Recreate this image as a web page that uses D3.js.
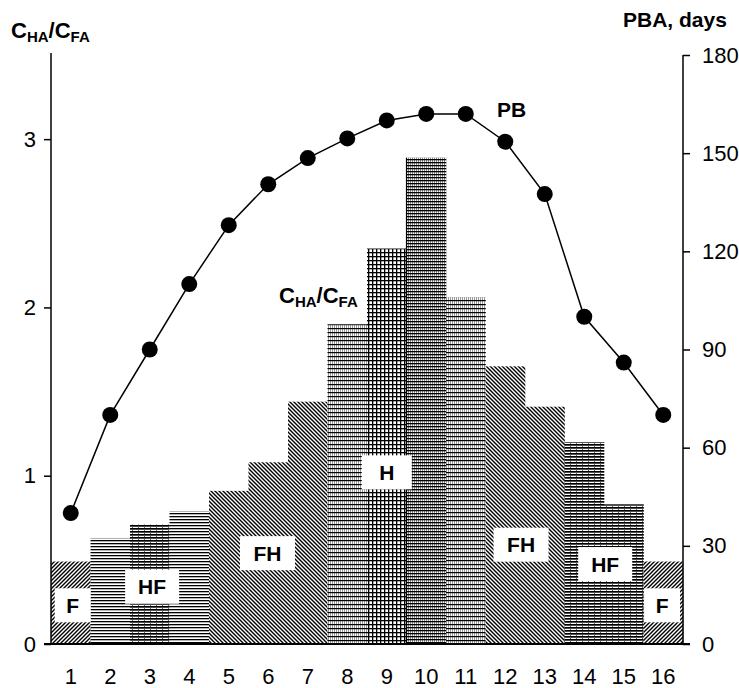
<!DOCTYPE html>
<html>
<head>
<meta charset="utf-8">
<script src="https://cdn.jsdelivr.net/npm/d3@7/dist/d3.min.js"></script>
<style>
  body { margin: 0; background: #fff; }
  svg { display: block; font-family: "Liberation Sans", Arial, sans-serif; }
  .num { font-family: "Liberation Sans Narrow", "Arial Narrow", "Liberation Sans", sans-serif; }
</style>
</head>
<body>
<svg id="chart" width="739" height="688"></svg>
<script>
// soil types 1..16
var sites = d3.range(1, 17);
// C_HA / C_FA ratio (left axis)
var ratio = [0.49, 0.63, 0.71, 0.79, 0.91, 1.08, 1.44, 1.90, 2.35, 2.89, 2.06, 1.65, 1.41, 1.20, 0.83, 0.49];
// PBA, days (right axis)
var pba = [40, 70, 90, 110, 128, 140.5, 148.5, 154.5, 160, 162, 162, 153.5, 137.5, 100, 86, 70];
// fill pattern for each bar
var barPattern = ["diagR", "horiz", "horizDark", "horiz", "diagL", "diagL", "diagL", "vgrid",
                  "grid", "hgrid", "vgrid", "diagL", "diagL", "horizDark", "horizDark", "diagR"];
var leftTicks = [0, 1, 2, 3];
var rightTicks = [0, 30, 60, 90, 120, 150, 180];
// humus type labels: text, position (in site units), level (left-axis units)
var typeLabels = ["F", "HF", "FH", "H", "FH", "HF", "F"];
var typePos = [1.05, 3.06, 5.98, 9.0, 12.4, 14.53, 15.97];
var typeLevel = [0.23, 0.34, 0.54, 1.02, 0.59, 0.475, 0.23];

var svg = d3.select("#chart");
var L = 51, R = 683, B = 644, T = 55;

var x = d3.scaleBand().domain(sites).range([L, R]).padding(0);
var xc = d3.scaleLinear().domain([0.5, 16.5]).range([L, R]);
var yL = d3.scaleLinear().domain([0, 3.5]).range([B, T]);
var yR = d3.scaleLinear().domain([0, 180]).range([B, T]);

// patterns
var defs = svg.append("defs");
function pat(id, w, h) {
  var p = defs.append("pattern").attr("id", id).attr("patternUnits", "userSpaceOnUse")
    .attr("width", w).attr("height", h);
  p.append("rect").attr("width", w).attr("height", h).attr("fill", "#fff");
  return p;
}
var p;
p = pat("diagR", 4, 4);
p.append("path").attr("d", "M-1,1 L1,-1 M0,4 L4,0 M3,5 L5,3").attr("stroke", "#000").attr("stroke-width", 1.4);
p = pat("diagL", 4, 4);
p.append("path").attr("d", "M-1,3 L1,5 M0,0 L4,4 M3,-1 L5,1").attr("stroke", "#000").attr("stroke-width", 1.4);
p = pat("horiz", 4, 3);
p.append("rect").attr("y", 0).attr("width", 4).attr("height", 1.3).attr("fill", "#000");
p = pat("horizDark", 6, 3);
p.append("rect").attr("y", 0).attr("width", 6).attr("height", 1.7).attr("fill", "#000");
p.append("rect").attr("x", 0).attr("y", 1.7).attr("width", 1).attr("height", 1.3).attr("fill", "#666");
p = pat("vgrid", 2, 4);
p.append("rect").attr("x", 0).attr("width", 1).attr("height", 4).attr("fill", "#999");
p.append("rect").attr("y", 0).attr("width", 2).attr("height", 1.2).attr("fill", "#000");
p = pat("grid", 4, 4);
p.append("rect").attr("x", 0).attr("width", 1.3).attr("height", 4).attr("fill", "#000");
p.append("rect").attr("y", 0).attr("width", 4).attr("height", 1.3).attr("fill", "#000");
p = pat("hgrid", 2, 3);
p.append("rect").attr("x", 0).attr("width", 1).attr("height", 3).attr("fill", "#888");
p.append("rect").attr("y", 0).attr("width", 2).attr("height", 1.3).attr("fill", "#000");

// bars
svg.append("g").selectAll("rect").data(sites).enter().append("rect")
  .attr("x", d => x(d))
  .attr("y", (d, i) => yL(ratio[i]))
  .attr("width", x.bandwidth() + 0.3)
  .attr("height", (d, i) => B - yL(ratio[i]))
  .attr("fill", (d, i) => "url(#" + barPattern[i] + ")");

// bar 9/10 divider
svg.append("line").attr("x1", x(10)).attr("x2", x(10)).attr("y1", yL(ratio[9])).attr("y2", B)
  .attr("stroke", "#000").attr("stroke-width", 1.2);

// label boxes
var boxW = { "F": 36, "HF": 54, "FH": 55, "H": 50 };
var lab = svg.append("g").selectAll("g").data(typeLabels).enter().append("g")
  .attr("transform", (d, i) => "translate(" + xc(typePos[i]) + "," + yL(typeLevel[i]) + ")");
lab.append("rect")
  .attr("x", d => -boxW[d] / 2).attr("y", -17)
  .attr("width", d => boxW[d]).attr("height", 34)
  .attr("fill", "#fff");
lab.append("text").text(d => d)
  .attr("text-anchor", "middle").attr("dy", "0.36em")
  .attr("font-size", 21).attr("font-weight", "bold");

// PBA line
var line = d3.line().x((d, i) => xc(sites[i])).y(d => yR(d));
svg.append("path").datum(pba).attr("d", line)
  .attr("fill", "none").attr("stroke", "#000").attr("stroke-width", 1.5);
svg.append("g").selectAll("circle").data(pba).enter().append("circle")
  .attr("cx", (d, i) => xc(sites[i])).attr("cy", d => yR(d)).attr("r", 8).attr("fill", "#000");

// axes
var axL = d3.axisLeft(yL).tickValues(leftTicks).tickSize(7).tickPadding(8).tickFormat(d3.format("d"));
var gL = svg.append("g").attr("transform", "translate(" + L + ",0)").call(axL);
gL.select(".domain").attr("d", "M0," + (T - 2) + "V" + B);
var axR = d3.axisRight(yR).tickValues(rightTicks).tickSize(7).tickPadding(12);
var gR = svg.append("g").attr("transform", "translate(" + R + ",0)").call(axR);
gR.select(".domain").attr("d", "M0," + T + "V" + B);
[gL, gR].forEach(function (g) {
  g.attr("font-family", null);
  g.selectAll("text").attr("class", "num").attr("font-size", 22).attr("fill", "#000");
  g.selectAll("line, path").attr("stroke", "#000").attr("stroke-width", 1.5);
});
svg.append("line").attr("x1", L - 7).attr("x2", R + 7).attr("y1", B).attr("y2", B)
  .attr("stroke", "#000").attr("stroke-width", 2);

// x labels
svg.append("g").selectAll("text").data(sites).enter().append("text")
  .attr("class", "num")
  .attr("x", d => xc(d)).attr("y", 684)
  .attr("text-anchor", "middle").attr("font-size", 22).text(d => d);

// titles
function ratioLabel(xp, yp) {
  var t = svg.append("text").attr("x", xp).attr("y", yp).attr("font-weight", "bold").attr("font-size", 22);
  t.append("tspan").text("C");
  t.append("tspan").text("HA").attr("font-size", 15).attr("dy", 4);
  t.append("tspan").text("/C").attr("dy", -4);
  t.append("tspan").text("FA").attr("font-size", 15).attr("dy", 4);
}
ratioLabel(11, 38);
ratioLabel(279, 303);
svg.append("text").attr("x", 623).attr("y", 27).attr("font-weight", "bold").attr("font-size", 21).text("PBA, days");
svg.append("text").attr("x", 497).attr("y", 117).attr("font-weight", "bold").attr("font-size", 21).text("PB");
</script>
</body>
</html>
